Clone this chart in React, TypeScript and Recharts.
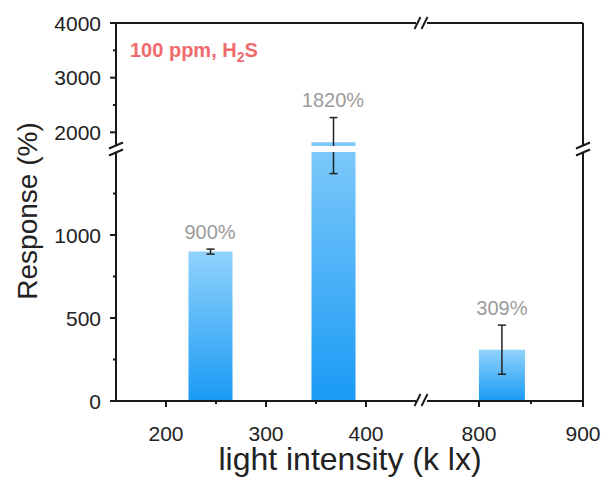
import {
  ComposedChart,
  Bar,
  ErrorBar,
  Scatter,
  LabelList,
  XAxis,
  YAxis,
  ReferenceLine,
} from 'recharts';

// light intensity (k lx) of each bar and its response
const intensity = [244, 367, 822];
const response = [900, 1820, 309];
const responseErr = [15, 450, 148];
const responseText = ['900%', '1820%', '309%'];

const xTicksLeft = [200, 250, 300, 350, 400];
const xTicksRight = [800, 850, 900];
const xMajor = [200, 300, 400, 800, 900];
const yTicksLow = [0, 250, 500, 750, 1000, 1250];
const yTicksHigh = [2000, 2500, 3000, 3500, 4000];
const yMajor = [0, 500, 1000, 2000, 3000, 4000];

const rows = intensity.map((x, i) => ({
  x,
  value: response[i],
  err: responseErr[i],
  top: response[i] + responseErr[i],
  label: responseText[i],
}));

const FONT = "Arial, 'Liberation Sans', sans-serif";
const INK = '#1a1a1a';

const XTick = ({ x, y, payload }: any) => {
  const major = xMajor.includes(payload.value);
  return (
    <g>
      <line x1={x} x2={x} y1={y} y2={y + (major ? 6 : 3)} stroke={INK} strokeWidth={2} />
      {major && (
        <text x={x} y={y + 40} textAnchor="middle" fontSize={21} fill="#222">
          {payload.value}
        </text>
      )}
    </g>
  );
};

const YTick = ({ x, y, payload }: any) => {
  const major = yMajor.includes(payload.value);
  return (
    <g>
      <line x1={x - (major ? 6 : 3)} x2={x} y1={y} y2={y} stroke={INK} strokeWidth={2} />
      {major && (
        <text x={x - 15} y={y + 7.5} textAnchor="end" fontSize={21} fill="#222">
          {payload.value}
        </text>
      )}
    </g>
  );
};

type PanelProps = {
  id: string;
  left: number;
  top: number;
  width: number;
  height: number;
  xDomain: [number, number];
  yDomain: [number, number];
  xTicks?: number[];
  yTicks?: number[];
  upper: boolean;
  right: boolean;
  barSize: number;
};

// margins leave room so edge labels / frame lines are not clipped by the svg
const TOP_PAD = 14;
const RIGHT_PAD = 24;

function Panel({
  id,
  left,
  top,
  width,
  height,
  xDomain,
  yDomain,
  xTicks,
  yTicks,
  upper,
  right,
  barSize,
}: PanelProps) {
  const labelRows = rows.filter(
    (r) =>
      r.x >= xDomain[0] &&
      r.x <= xDomain[1] &&
      r.top >= yDomain[0] &&
      r.top <= yDomain[1]
  );

  return (
    <div style={{ position: 'absolute', left, top }}>
      <ComposedChart
        width={width}
        height={height}
        data={rows}
        margin={{
          top: upper ? TOP_PAD : 0,
          right: right ? RIGHT_PAD : 0,
          bottom: 0,
          left: 0,
        }}
      >
        <defs>
          <linearGradient id={`grad-${id}`} x1="0" y1="0" x2="0" y2="1">
            <stop offset="0%" stopColor="#90d2fb" />
            <stop offset="100%" stopColor="#1a9af5" />
          </linearGradient>
        </defs>

        <XAxis
          type="number"
          dataKey="x"
          domain={xDomain}
          allowDataOverflow
          hide={!xTicks}
          ticks={xTicks}
          interval={0}
          height={76}
          tickSize={0}
          tickMargin={0}
          tickLine={false}
          axisLine={{ stroke: INK, strokeWidth: 2 }}
          tick={<XTick />}
        />

        <YAxis
          type="number"
          domain={yDomain}
          allowDataOverflow
          hide={!yTicks}
          ticks={yTicks}
          interval={0}
          width={116}
          tickSize={0}
          tickMargin={0}
          tickLine={false}
          axisLine={{ stroke: INK, strokeWidth: 2 }}
          tick={<YTick />}
        />

        {upper && <ReferenceLine y={yDomain[1]} stroke={INK} strokeWidth={2} />}
        {right && <ReferenceLine x={xDomain[1]} stroke={INK} strokeWidth={2} />}

        <Bar
          dataKey="value"
          barSize={barSize}
          fill={upper ? '#7cc8f8' : `url(#grad-${id})`}
          isAnimationActive={false}
        >
          <ErrorBar dataKey="err" width={4} stroke="#222" strokeWidth={1.5} />
        </Bar>

        <Scatter
          data={labelRows}
          dataKey="top"
          shape={() => <g />}
          isAnimationActive={false}
        >
          <LabelList
            dataKey="label"
            position="top"
            offset={6}
            fill="#9b9b9b"
            fontSize={20}
          />
        </Scatter>
      </ComposedChart>
    </div>
  );
}

function BreakMark({ cx, cy, vertical }: { cx: number; cy: number; vertical: boolean }) {
  const marks = [-1, 1].map((k) =>
    vertical ? (
      <line
        key={k}
        x1={cx - 7}
        y1={cy + 3 + 3.5 * k}
        x2={cx + 7}
        y2={cy - 3 + 3.5 * k}
        stroke={INK}
        strokeWidth={2}
      />
    ) : (
      <line
        key={k}
        x1={cx - 3 + 3.5 * k}
        y1={cy + 6}
        x2={cx + 3 + 3.5 * k}
        y2={cy - 6}
        stroke={INK}
        strokeWidth={2}
      />
    )
  );
  return <g>{marks}</g>;
}

export default function App() {
  return (
    <div
      style={{
        position: 'absolute',
        left: 0,
        top: 0,
        width: 606,
        height: 477,
        background: '#fff',
        fontFamily: FONT,
      }}
    >
      <Panel
        id="ul"
        left={0}
        top={23 - TOP_PAD}
        width={416}
        height={123 + TOP_PAD}
        xDomain={[150, 450]}
        yDomain={[1750, 4000]}
        yTicks={yTicksHigh}
        upper
        right={false}
        barSize={44}
      />
      <Panel
        id="ur"
        left={427}
        top={23 - TOP_PAD}
        width={156 + RIGHT_PAD}
        height={123 + TOP_PAD}
        xDomain={[750, 900]}
        yDomain={[1750, 4000]}
        upper
        right
        barSize={46}
      />
      <Panel
        id="ll"
        left={0}
        top={152}
        width={416}
        height={325}
        xDomain={[150, 450]}
        yDomain={[0, 1500]}
        xTicks={xTicksLeft}
        yTicks={yTicksLow}
        upper={false}
        right={false}
        barSize={44}
      />
      <Panel
        id="lr"
        left={427}
        top={152}
        width={156 + RIGHT_PAD}
        height={325}
        xDomain={[750, 900]}
        yDomain={[0, 1500]}
        xTicks={xTicksRight}
        upper={false}
        right
        barSize={46}
      />

      <svg
        width={606}
        height={477}
        style={{ position: 'absolute', left: 0, top: 0, pointerEvents: 'none' }}
      >
        <BreakMark cx={116} cy={149} vertical />
        <BreakMark cx={583} cy={149} vertical />
        <BreakMark cx={421} cy={23} vertical={false} />
        <BreakMark cx={421} cy={400} vertical={false} />

        <text
          transform="translate(37,211) rotate(-90)"
          textAnchor="middle"
          fontSize={28}
          fill="#222"
        >
          Response (%)
        </text>
        <text x={350} y={470} textAnchor="middle" fontSize={32} fill="#222">
          light intensity (k lx)
        </text>
        <text x={130} y={57} fontSize={20} fontWeight="bold" fill="#ef6b6e">
          100 ppm, H
          <tspan fontSize={14} dy={5}>
            2
          </tspan>
          <tspan dy={-5}>S</tspan>
        </text>
      </svg>
    </div>
  );
}
